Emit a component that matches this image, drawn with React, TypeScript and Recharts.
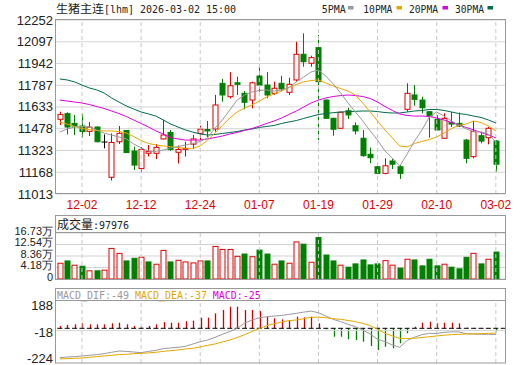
import { Bar, CartesianGrid, ComposedChart, Line, ReferenceLine, XAxis, YAxis } from "recharts"

const open = [11545, 11585, 11516, 11497, 11459, 11490, 11383, 11132, 11385, 11465, 11319, 11194, 11303, 11303, 11405, 11451, 11310, 11331, 11368, 11445, 11472, 11476, 11801, 11706, 11805, 11730, 11682, 11853, 11789, 11730, 11801, 11737, 11825, 12008, 11944, 12055, 11682, 11552, 11481, 11606, 11499, 11410, 11296, 11207, 11160, 11248, 11207, 11616, 11718, 11682, 11599, 11545, 11410, 11521, 11516, 11397, 11279, 11428, 11414, 11390]
const close = [11580, 11490, 11497, 11458, 11489, 11385, 11383, 11380, 11445, 11308, 11219, 11330, 11315, 11345, 11433, 11330, 11330, 11338, 11405, 11474, 11462, 11647, 11718, 11784, 11794, 11666, 11805, 11789, 11718, 11766, 11761, 11794, 12008, 11955, 11984, 11813, 11552, 11474, 11595, 11576, 11462, 11286, 11271, 11160, 11214, 11225, 11160, 11730, 11687, 11627, 11568, 11469, 11552, 11511, 11497, 11267, 11457, 11390, 11481, 11225]
const high = [11599, 11595, 11575, 11583, 11526, 11494, 11437, 11445, 11497, 11469, 11350, 11348, 11362, 11369, 11542, 11469, 11358, 11385, 11433, 11499, 11533, 11718, 11832, 11880, 11848, 11746, 11813, 11924, 11880, 11813, 11855, 11841, 12097, 12157, 11998, 12145, 11686, 11556, 11599, 11627, 11523, 11469, 11343, 11214, 11267, 11262, 11219, 11801, 11789, 11706, 11600, 11575, 11588, 11597, 11593, 11405, 11533, 11457, 11492, 11397]
const low = [11504, 11438, 11433, 11415, 11426, 11380, 11338, 11109, 11369, 11305, 11184, 11166, 11280, 11262, 11402, 11319, 11231, 11279, 11333, 11397, 11417, 11457, 11670, 11694, 11718, 11616, 11623, 11741, 11694, 11718, 11746, 11718, 11813, 11919, 11919, 11397, 11547, 11428, 11478, 11547, 11438, 11279, 11232, 11159, 11153, 11191, 11120, 11599, 11642, 11588, 11414, 11467, 11405, 11490, 11490, 11232, 11267, 11374, 11367, 11172]

const ma5 = [11454, 11476, 11490, 11494, 11490, 11469, 11447, 11433, 11419, 11405, 11369, 11341, 11319, 11316, 11326, 11341, 11351, 11362, 11373, 11387, 11412, 11483, 11540, 11611, 11682, 11718, 11739, 11750, 11754, 11746, 11754, 11771, 11811, 11846, 11882, 11896, 11853, 11796, 11732, 11661, 11597, 11533, 11462, 11397, 11319, 11269, 11212, 11298, 11390, 11469, 11561, 11597, 11568, 11533, 11504, 11476, 11458, 11454, 11440, 11383]
const ma10 = [11526, 11511, 11494, 11479, 11472, 11465, 11462, 11462, 11458, 11447, 11422, 11394, 11373, 11362, 11355, 11350, 11344, 11338, 11338, 11355, 11397, 11447, 11501, 11554, 11597, 11625, 11647, 11675, 11704, 11725, 11746, 11771, 11793, 11811, 11821, 11825, 11803, 11782, 11764, 11746, 11718, 11661, 11597, 11533, 11469, 11412, 11355, 11348, 11373, 11387, 11401, 11419, 11447, 11479, 11501, 11511, 11533, 11522, 11497, 11462]
const ma20 = [11682, 11675, 11668, 11661, 11650, 11636, 11622, 11604, 11586, 11565, 11540, 11515, 11490, 11462, 11440, 11415, 11405, 11397, 11397, 11397, 11405, 11415, 11426, 11440, 11451, 11465, 11479, 11497, 11515, 11533, 11554, 11579, 11604, 11632, 11661, 11682, 11697, 11707, 11714, 11718, 11714, 11707, 11693, 11668, 11636, 11608, 11583, 11572, 11568, 11568, 11565, 11554, 11540, 11522, 11504, 11487, 11469, 11451, 11433, 11412]
const ma30 = [11832, 11825, 11811, 11789, 11768, 11754, 11732, 11697, 11668, 11640, 11618, 11597, 11583, 11568, 11540, 11511, 11490, 11469, 11454, 11440, 11433, 11437, 11444, 11451, 11458, 11469, 11476, 11487, 11494, 11501, 11515, 11526, 11536, 11551, 11565, 11579, 11586, 11592, 11597, 11599, 11602, 11604, 11604, 11600, 11593, 11590, 11590, 11597, 11604, 11608, 11615, 11615, 11608, 11597, 11586, 11579, 11568, 11558, 11540, 11519]

const volume = [57300, 65700, 50100, 46600, 29800, 29800, 32200, 111200, 93200, 65700, 75300, 78900, 62100, 53700, 104000, 62100, 68100, 62100, 58500, 65700, 65700, 118400, 107600, 107600, 82500, 90800, 81100, 105200, 90800, 53800, 65700, 57400, 135000, 126700, 61000, 150800, 87200, 65700, 50300, 43100, 54900, 69300, 51300, 54900, 66800, 50300, 39500, 71800, 69300, 47700, 71800, 47700, 53800, 43100, 37000, 79000, 93300, 54900, 71800, 97976]
const volUp = [1, 0, 1, 0, 1, 0, 1, 1, 1, 0, 0, 1, 0, 1, 1, 0, 1, 1, 1, 1, 0, 1, 1, 1, 1, 0, 1, 0, 0, 1, 0, 1, 1, 0, 1, 0, 0, 0, 1, 0, 0, 0, 0, 0, 1, 1, 0, 1, 0, 0, 0, 0, 1, 0, 0, 0, 1, 0, 1, 0]

const dif = [-230, -225, -222, -217, -212, -206, -199, -188, -178, -181, -186, -191, -181, -173, -159, -154, -149, -141, -123, -105, -92, -71, -47, -26, 0, 40, 65, 83, 91, 96, 101, 109, 117, 127, 135, 122, 96, 70, 52, 31, 13, -13, -45, -86, -105, -131, -149, -95, -70, -50, -40, -40, -32, -28, -28, -42, -45, -47, -47, -49]
const dea = [-240, -238, -235, -233, -227, -222, -217, -212, -206, -204, -199, -196, -193, -188, -181, -175, -170, -162, -157, -146, -133, -123, -107, -92, -73, -50, -25, -2, 20, 36, 49, 60, 65, 75, 86, 88, 83, 75, 70, 62, 52, 39, 21, -8, -39, -60, -79, -80, -78, -72, -66, -60, -54, -50, -47, -45, -44, -42, -40, -37]
const macd = [18, 26, 31, 39, 31, 31, 31, 39, 44, 31, 18, 13, 18, 31, 49, 44, 44, 55, 60, 83, 83, 117, 143, 169, 169, 143, 143, 135, 91, 78, 70, 65, 91, 86, 91, 39, -8, -66, -66, -86, -92, -105, -139, -170, -144, -157, -117, -39, 13, 44, 52, 39, 44, 44, 39, 5, 3, 3, 2, -25]

const dateTicks = [3, 11, 19, 27, 35, 43, 51, 59]
const dateLabels = ["12-02", "12-12", "12-24", "01-07", "01-19", "01-29", "02-10", "03-02"]
const priceTicks = [11013, 11168, 11323, 11478, 11633, 11787, 11942, 12097, 12252]
const volTicks = [0, 41825, 83650, 125475, 167300]
const volLabels = ["0", "4.18万", "8.36万", "12.54万", "16.73万"]
const macdTicks = [-224, -18, 188]

const W = 520
const H = 365
const X_DOMAIN: [number, number] = [-0.65, 60.24]
const RED = "#e00000"
const GREEN = "#008000"
const AXIS_FONT = "'Liberation Sans', Arial, sans-serif"
const MONO = "'DejaVu Sans Mono', monospace"
const CJK = "'Noto Sans CJK SC', sans-serif"

const rows = open.map((o, i) => ({
  i,
  open: o,
  close: close[i],
  high: high[i],
  low: low[i],
  range: [low[i], high[i]],
  ma5: ma5[i],
  ma10: ma10[i],
  ma20: ma20[i],
  ma30: ma30[i],
  vol: volume[i],
  up: volUp[i] === 1,
  dif: dif[i],
  dea: dea[i],
  macd: macd[i],
}))

function Candle(props: any) {
  const { x, y, width, height, payload } = props
  const top = Math.min(y, y + height)
  const h = Math.abs(height)
  const { open: o, close: c, high: hi, low: lo } = payload
  const py = (v: number) => top + ((hi - v) / (hi - lo)) * h
  const cx = Math.round(x + width / 2) + 0.5
  const color = c > o ? RED : c < o ? GREEN : "#000"
  const bTop = py(Math.max(o, c))
  const bBot = py(Math.min(o, c))
  return (
    <g>
      <line x1={cx} x2={cx} y1={top} y2={top + h} stroke={color} strokeWidth={1} />
      {c === o ? (
        <line x1={cx - 3} x2={cx + 3} y1={bTop} y2={bTop} stroke={color} strokeWidth={1} />
      ) : (
        <rect
          x={cx - 2.5}
          y={bTop}
          width={5}
          height={Math.max(bBot - bTop, 1)}
          fill={c > o ? "#fff" : GREEN}
          stroke={color}
          strokeWidth={1}
        />
      )}
    </g>
  )
}

function VolBar(props: any) {
  const { x, y, width, height, payload } = props
  const top = Math.min(y, y + height)
  const h = Math.abs(height)
  const cx = Math.round(x + width / 2) + 0.5
  const color = payload.up ? RED : GREEN
  return (
    <rect x={cx - 2.5} y={top} width={5} height={h} fill={payload.up ? "#fff" : GREEN} stroke={color} strokeWidth={1} />
  )
}

function MacdBar(props: any) {
  const { x, y, width, height, payload } = props
  const cx = Math.round(x + width / 2) + 0.5
  return <line x1={cx} x2={cx} y1={y} y2={y + height} stroke={payload.macd >= 0 ? "#d00000" : GREEN} strokeWidth={1.3} />
}

const xTick = (props: any) => {
  const idx = dateTicks.indexOf(props.payload.value)
  return (
    <text x={props.x} y={209} textAnchor="middle" fill={RED} fontSize={12} fontFamily={AXIS_FONT}>
      {dateLabels[idx]}
    </text>
  )
}

const priceTick = (props: any) => (
  <text x={53} y={props.y + 4.5} textAnchor="end" fill="#222" fontSize={13} fontFamily={AXIS_FONT}>
    {props.payload.value}
  </text>
)

const volTick = (props: any) => (
  <text x={53} y={props.y + 1.5} textAnchor="end" fill="#222" fontSize={11} fontFamily={AXIS_FONT}>
    {volLabels[volTicks.indexOf(props.payload.value)]}
  </text>
)

const macdTick = (props: any) => (
  <text x={53} y={props.y + 6} textAnchor="end" fill="#222" fontSize={13} fontFamily={AXIS_FONT}>
    {props.payload.value}
  </text>
)

const layer: React.CSSProperties = { position: "absolute", left: 0, top: 0 }

function PriceChart() {
  return (
    <ComposedChart width={W} height={H} data={rows} margin={{ top: 20, right: 15, bottom: H - 194 - 22, left: 0 }}>
      <CartesianGrid vertical={false} stroke="#d4d4d4" />
      <XAxis
        type="number"
        dataKey="i"
        domain={X_DOMAIN}
        ticks={dateTicks}
        interval={0}
        height={22}
        axisLine={false}
        tickLine={false}
        tick={xTick}
        allowDataOverflow
      />
      <YAxis
        domain={[11013, 12252]}
        ticks={priceTicks}
        interval={0}
        width={55}
        axisLine={false}
        tickLine={false}
        tick={priceTick}
        allowDataOverflow
      />
      {dateTicks.map((t) => (
        <ReferenceLine key={t} x={t} stroke="#c8c8c8" strokeDasharray="4 3" />
      ))}
      <Bar dataKey="range" barSize={5} shape={Candle} isAnimationActive={false} />
      <Line dataKey="ma30" stroke="#006b4d" dot={false} strokeWidth={1} isAnimationActive={false} />
      <Line dataKey="ma20" stroke="#e000e0" dot={false} strokeWidth={1} isAnimationActive={false} />
      <Line dataKey="ma10" stroke="#e8a800" dot={false} strokeWidth={1} isAnimationActive={false} />
      <Line dataKey="ma5" stroke="#9a9a9a" dot={false} strokeWidth={1} isAnimationActive={false} />
    </ComposedChart>
  )
}

function VolumeChart() {
  return (
    <ComposedChart width={W} height={H} data={rows} margin={{ top: 233, right: 15, bottom: H - 279, left: 0 }}>
      <CartesianGrid vertical={false} stroke="#d4d4d4" />
      <XAxis type="number" dataKey="i" domain={X_DOMAIN} hide allowDataOverflow />
      <YAxis
        domain={[0, 167300]}
        ticks={volTicks}
        interval={0}
        width={55}
        axisLine={false}
        tickLine={false}
        tick={volTick}
        allowDataOverflow
      />
      {dateTicks.map((t) => (
        <ReferenceLine key={t} x={t} stroke="#c8c8c8" strokeDasharray="4 3" />
      ))}
      <Bar dataKey="vol" barSize={5} shape={VolBar} isAnimationActive={false} />
    </ComposedChart>
  )
}

function MacdChart() {
  return (
    <ComposedChart width={W} height={H} data={rows} margin={{ top: 301, right: 15, bottom: H - 363, left: 0 }}>
      <XAxis type="number" dataKey="i" domain={X_DOMAIN} hide allowDataOverflow />
      <YAxis
        domain={[-272, 214]}
        ticks={macdTicks}
        interval={0}
        width={55}
        axisLine={false}
        tickLine={false}
        tick={macdTick}
        allowDataOverflow
      />
      {dateTicks.map((t) => (
        <ReferenceLine key={t} x={t} stroke="#c8c8c8" strokeDasharray="4 3" />
      ))}
      <ReferenceLine y={-18} stroke="#d4d4d4" />
      <Bar dataKey="macd" barSize={2} shape={MacdBar} isAnimationActive={false} />
      <ReferenceLine y={0} stroke="#000" strokeDasharray="5 2.39" strokeDashoffset={5.09} />
      <Line dataKey="dif" stroke="#9a9a9a" dot={false} strokeWidth={1} isAnimationActive={false} />
      <Line dataKey="dea" stroke="#e8a800" dot={false} strokeWidth={1} isAnimationActive={false} />
    </ComposedChart>
  )
}

function Frames() {
  const legend = [
    { text: "5PMA", x: 321.7, len: 24, mark: 348, color: "#9a9a9a" },
    { text: "10PMA", x: 363.3, len: 29, mark: 396.5, color: "#e8a800" },
    { text: "20PMA", x: 409, len: 29, mark: 442.5, color: "#e000e0" },
    { text: "30PMA", x: 455, len: 29, mark: 487.5, color: "#006b4d" },
  ]
  return (
    <svg width={W} height={H} style={{ ...layer, pointerEvents: "none" }}>
      <rect x={55.5} y={19.5} width={450} height={174} fill="none" stroke="#999" />
      <rect x={55.5} y={215.5} width={450} height={64} fill="none" stroke="#999" />
      <line x1={55.5} x2={505.5} y1={232.5} y2={232.5} stroke="#999" />
      <rect x={55.5} y={288.5} width={450} height={74.5} fill="none" stroke="#999" />
      <line x1={55.5} x2={505.5} y1={300.5} y2={300.5} stroke="#999" />

      <text x={56} y={13} fontSize={11.5} fontFamily={CJK} fill="#222" textLength={48} lengthAdjust="spacingAndGlyphs">
        生猪主连
      </text>
      <text x={104} y={12.5} fontSize={11} fontFamily={MONO} fill="#222" textLength={132} lengthAdjust="spacingAndGlyphs">
        [lhm] 2026-03-02 15:00
      </text>

      {legend.map((d) => (
        <g key={d.text}>
          <text x={d.x} y={12.5} fontSize={11} fontFamily={MONO} fill="#222" textLength={d.len} lengthAdjust="spacingAndGlyphs">
            {d.text}
          </text>
          <rect x={d.mark} y={6} width={5.5} height={3.5} fill={d.color} />
        </g>
      ))}

      <text x={57} y={228.5} fontSize={12} fontFamily={CJK} fill="#222" textLength={36} lengthAdjust="spacingAndGlyphs">
        成交量
      </text>
      <text x={93} y={228.5} fontSize={11} fontFamily={MONO} fill="#222" textLength={36} lengthAdjust="spacingAndGlyphs">
        :97976
      </text>

      <text x={57} y={299} fontSize={11} fontFamily={MONO} fill="#999" textLength={72} lengthAdjust="spacingAndGlyphs">
        MACD_DIF:-49
      </text>
      <text x={135} y={299} fontSize={11} fontFamily={MONO} fill="#e0a800" textLength={72} lengthAdjust="spacingAndGlyphs">
        MACD_DEA:-37
      </text>
      <text x={212.7} y={299} fontSize={11} fontFamily={MONO} fill="#e000e0" textLength={48} lengthAdjust="spacingAndGlyphs">
        MACD:-25
      </text>
    </svg>
  )
}

export default function App() {
  return (
    <div style={{ position: "absolute", left: 0, top: 0, width: W, height: H, background: "#fff", overflow: "hidden" }}>
      <div style={layer}>
        <PriceChart />
      </div>
      <div style={layer}>
        <VolumeChart />
      </div>
      <div style={layer}>
        <MacdChart />
      </div>
      <Frames />
    </div>
  )
}
